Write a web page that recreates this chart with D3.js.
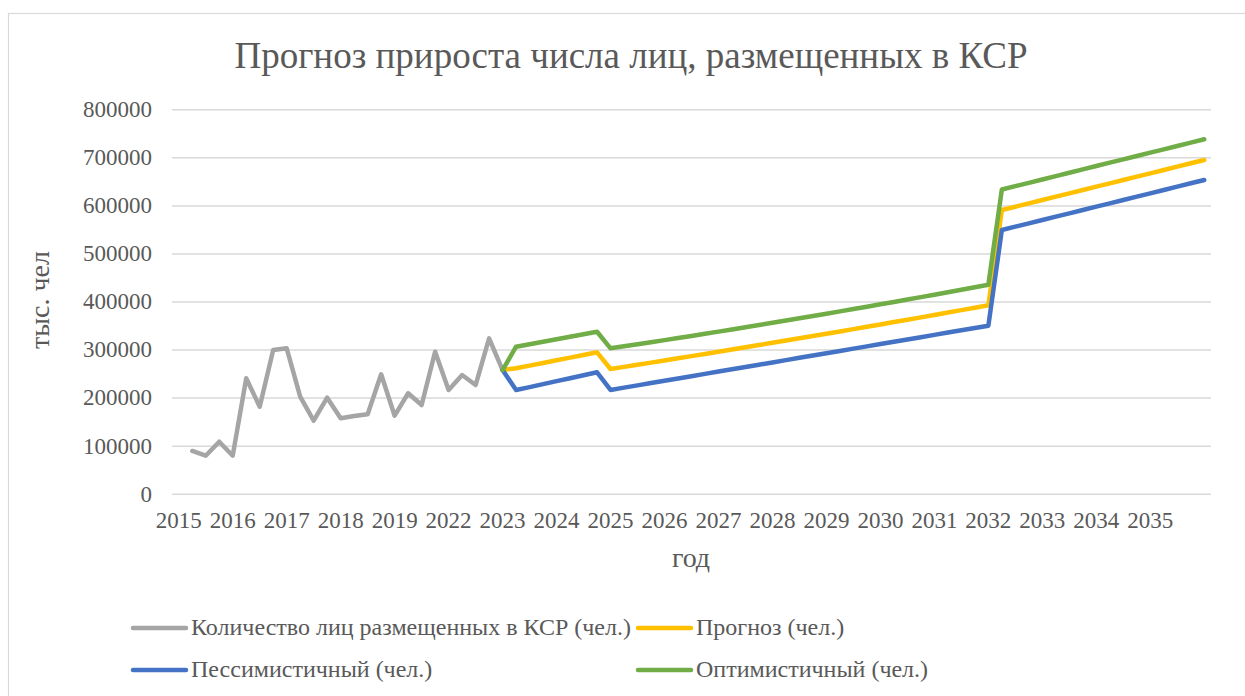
<!DOCTYPE html>
<html>
<head>
<meta charset="utf-8">
<script src="https://cdn.jsdelivr.net/npm/d3@7"></script>
<style>
  html, body { margin: 0; padding: 0; background: #fff; }
  svg { display: block; font-family: "Liberation Serif", "Times New Roman", serif; }
</style>
</head>
<body>
<svg id="chart" width="1245" height="696"></svg>
<script>
// ---- data ----
const title = "Прогноз прироста числа лиц, размещенных в КСР";
const yTitle = "тыс. чел";
const xTitle = "год";
const categoryCount = 77; // quarterly categories
const tickLabels = ["2015","2016","2017","2018","2019","2022","2023","2024","2025","2026","2027","2028","2029","2030","2031","2032","2033","2034","2035"];
const tickEvery = 4;
const yTicks = [0,100000,200000,300000,400000,500000,600000,700000,800000];

const seriesNames = ["Количество лиц размещенных в КСР (чел.)","Прогноз (чел.)","Пессимистичный (чел.)","Оптимистичный (чел.)"];

// actual values, category index 1..24
const actualStart = 1;
const actual = [88900,79100,108200,79100,240200,181100,299100,302600,201900,151900,199800,156900,161700,165200,248500,162300,209000,184600,295500,215800,247000,226200,323400,257400];

// forecast series, category index 24..76
const forecastStart = 24;
const forecast = [257400,
  261000,266600,272100,277700,283200,288800,294300,
  259500,263900,268300,272800,277300,281800,286300,290900,295400,300000,304700,309300,314000,318700,323400,328100,332900,337700,342500,347400,352300,357200,362100,367000,372000,377000,382000,387000,392100,
  590400,597300,604300,611200,618200,625100,632000,639000,645900,652900,659800,666700,673700,680600,687600,694500];
const pessimistic = [257400,
  215800,221900,228100,234200,240400,246500,252700,
  216000,220800,225500,230300,235100,239900,244600,249400,254200,258900,263700,268500,273200,278000,282800,287600,292300,297100,301900,306600,311400,316200,320900,325700,330500,335300,340000,344800,349600,
  548800,555700,562700,569600,576600,583500,590400,597400,604300,611300,618200,625100,632100,639000,646000,652900];
const optimistic = [257400,
  305900,311100,316300,321500,326700,331900,337100,
  302600,306800,311000,315300,319600,324000,328400,332900,337300,341900,346400,351000,355600,360300,365000,369800,374600,379400,384200,389100,394100,399000,404100,409100,414200,419400,424500,429800,435000,
  633100,640100,647000,654000,661000,667900,674900,681900,688900,695800,702800,709800,716700,723700,730700,737600];

const colors = ["#A5A5A5","#FFC000","#4472C4","#70AD47"];

// ---- layout ----
const FONT = "'Liberation Serif', 'Times New Roman', serif";
const svg = d3.select("#chart");
const plot = { left: 172, right: 1211, top: 109.3, bottom: 493.7 };
const textColor = "#595959";
const gridColor = "#D9D9D9";

svg.append("rect").attr("x", 8.5).attr("y", 13.5).attr("width", 1245).attr("height", 700)
  .attr("fill", "#fff").attr("stroke", "#D9D9D9").attr("stroke-width", 1.2);

const x = d3.scaleBand().domain(d3.range(categoryCount)).range([plot.left, plot.right]).padding(0);
const xc = i => x(i) + x.bandwidth() / 2;
const y = d3.scaleLinear().domain([0, 800000]).range([plot.bottom, plot.top]);

// y axis with gridlines
const yAxis = svg.append("g").attr("transform", `translate(${plot.left},0)`)
  .call(d3.axisLeft(y).tickValues(yTicks).tickSize(-(plot.right - plot.left)).tickPadding(20).tickFormat(d3.format("d")));
yAxis.attr("font-family", FONT);
yAxis.select(".domain").remove();
yAxis.selectAll(".tick line").attr("stroke", gridColor).attr("stroke-width", 1.5);
yAxis.selectAll(".tick text").attr("fill", textColor).style("font-size", "23px");

// x axis labels
const xAxis = svg.append("g").attr("transform", `translate(0,${plot.bottom})`)
  .call(d3.axisBottom(x).tickValues(tickLabels.map((_, i) => i * tickEvery)).tickSize(0).tickPadding(18)
    .tickFormat(d => tickLabels[d / tickEvery]));
xAxis.attr("font-family", FONT);
xAxis.select(".domain").remove();
xAxis.selectAll(".tick text").attr("fill", textColor).style("font-size", "23px");

// titles
svg.append("text").attr("x", 631).attr("y", 68).attr("text-anchor", "middle")
  .attr("fill", textColor).style("font-size", "37px").text(title);
svg.append("text").attr("transform", "translate(49,300) rotate(-90)").attr("text-anchor", "middle")
  .attr("fill", textColor).style("font-size", "28px").text(yTitle);
svg.append("text").attr("x", 691).attr("y", 567).attr("text-anchor", "middle")
  .attr("fill", textColor).style("font-size", "28px").text(xTitle);

// lines
const line = d3.line().x(d => xc(d.i)).y(d => y(d.v));
const toPts = (arr, start) => arr.map((v, k) => ({ i: start + k, v }));
const allSeries = [toPts(actual, actualStart), toPts(forecast, forecastStart), toPts(pessimistic, forecastStart), toPts(optimistic, forecastStart)];
allSeries.forEach((pts, s) => {
  svg.append("path").datum(pts).attr("d", line).attr("fill", "none")
    .attr("stroke", colors[s]).attr("stroke-width", 4.5)
    .attr("stroke-linejoin", "round").attr("stroke-linecap", "round");
});

// legend
const legendPos = [[133, 628], [638, 628], [133, 670], [638, 670]];
seriesNames.forEach((name, s) => {
  const [lx, ly] = legendPos[s];
  svg.append("line").attr("x1", lx).attr("x2", lx + 53).attr("y1", ly).attr("y2", ly)
    .attr("stroke", colors[s]).attr("stroke-width", 4.5).attr("stroke-linecap", "round");
  svg.append("text").attr("x", lx + 58).attr("y", ly + 7).attr("fill", textColor)
    .style("font-size", "24px").text(name);
});
</script>
</body>
</html>
